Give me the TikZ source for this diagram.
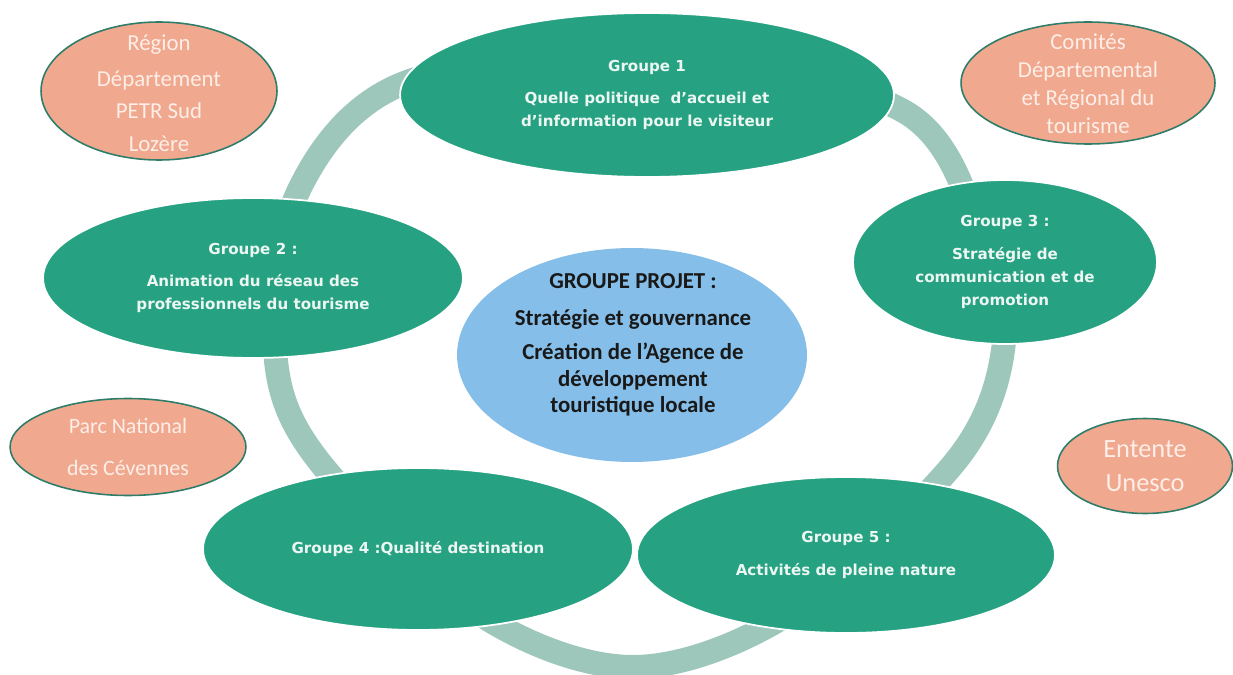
\documentclass[tikz,border=0pt]{standalone}
\usepackage{fontspec}
\setmainfont{Carlito}
\newfontfamily\groupfont{DejaVu Sans}
\usetikzlibrary{shapes.geometric}

\definecolor{vert}{RGB}{38,162,130}
\definecolor{anneau}{RGB}{158,199,188}
\definecolor{bleu}{RGB}{133,190,232}
\definecolor{saumon}{RGB}{240,168,143}
\definecolor{bordsaumon}{RGB}{45,125,105}
\definecolor{blanccasse}{RGB}{236,246,242}
\definecolor{roseclair}{RGB}{253,238,231}

\begin{document}
\begin{tikzpicture}[x=0.02cm,y=-0.02cm]
\tikzset{groupe/.style={ellipse,fill=vert,draw=white,line width=1pt,inner sep=0pt}}
\tikzset{gtexte/.style={align=center,text=blanccasse,font=\groupfont\bfseries\fontsize{8.6}{13}\selectfont}}
\tikzset{partenaire/.style={ellipse,fill=saumon,draw=bordsaumon,line width=0.9pt,inner sep=0pt}}
\tikzset{ptexte/.style={align=center,text=roseclair}}
\tikzset{projet/.style={ellipse,fill=bleu,inner sep=0pt}}

\useasboundingbox (0,0) rectangle (1233,675);

% anneau
\draw[anneau,line width=0.48cm] plot[smooth cycle,tension=0.55] coordinates {
  (645,52) (905,112) (985,250) (1003,350) (955,462) (790,613) (633,667)
  (478,613) (318,460) (275,350) (298,192) (402,84)};

\node[projet,minimum width=7cm,minimum height=4.28cm] (gp) at (632,355) {};
\node[align=center,text=black!90,font=\bfseries\fontsize{13}{15}\selectfont] (gpt) at (633,345)
  {GROUPE PROJET :\\[6pt]Stratégie et gouvernance\\[4.5pt]Création de l’Agence de\\développement\\touristique locale};

\node[groupe,minimum width=9.88cm,minimum height=3.28cm] (g1) at (647,95) {};
\node[gtexte] (g1t) at (g1) {Groupe 1\\[5.5pt]Quelle politique \ d’accueil et\\d’information pour le visiteur};

\node[groupe,minimum width=8.4cm,minimum height=3.2cm] (g2) at (253,278) {};
\node[gtexte] (g2t) at (g2) {Groupe 2 :\\[5.5pt]Animation du réseau des\\professionnels du tourisme};

\node[groupe,minimum width=6.08cm,minimum height=3.28cm] (g3) at (1005,262) {};
\node[gtexte] (g3t) at (g3) {Groupe 3 :\\[5.5pt]Stratégie de\\communication et de\\promotion};

\node[groupe,minimum width=8.6cm,minimum height=3.24cm] (g4) at (418,549) {};
\node[gtexte] (g4t) at (g4) {Groupe 4 :Qualité destination};

\node[groupe,minimum width=8.36cm,minimum height=3.12cm] (g5) at (846,555) {};
\node[gtexte] (g5t) at (g5) {Groupe 5 :\\[6pt]Activités de pleine nature};

\node[partenaire,minimum width=4.72cm,minimum height=2.76cm] (region) at (159,91) {};
\node[ptexte,font=\fontsize{13}{18.5}\selectfont] (regiont) at (159,93) {Région\\[2pt]Département\\PETR Sud\\Lozère};

\node[partenaire,minimum width=5.08cm,minimum height=2.44cm] (comites) at (1088,83) {};
\node[ptexte,font=\fontsize{13}{16}\selectfont] (comitest) at (1088,84) {Comités\\Départemental\\et Régional du\\tourisme};

\node[partenaire,minimum width=4.72cm,minimum height=1.94cm] (parc) at (128,447) {};
\node[ptexte,font=\fontsize{12.5}{24}\selectfont] (parct) at (parc) {Parc National\\des Cévennes};

\node[partenaire,minimum width=3.5cm,minimum height=1.9cm] (unesco) at (1145,466) {};
\node[ptexte,font=\fontsize{15}{19.5}\selectfont] (unescot) at (unesco) {Entente\\Unesco};

\end{tikzpicture}
\end{document}
